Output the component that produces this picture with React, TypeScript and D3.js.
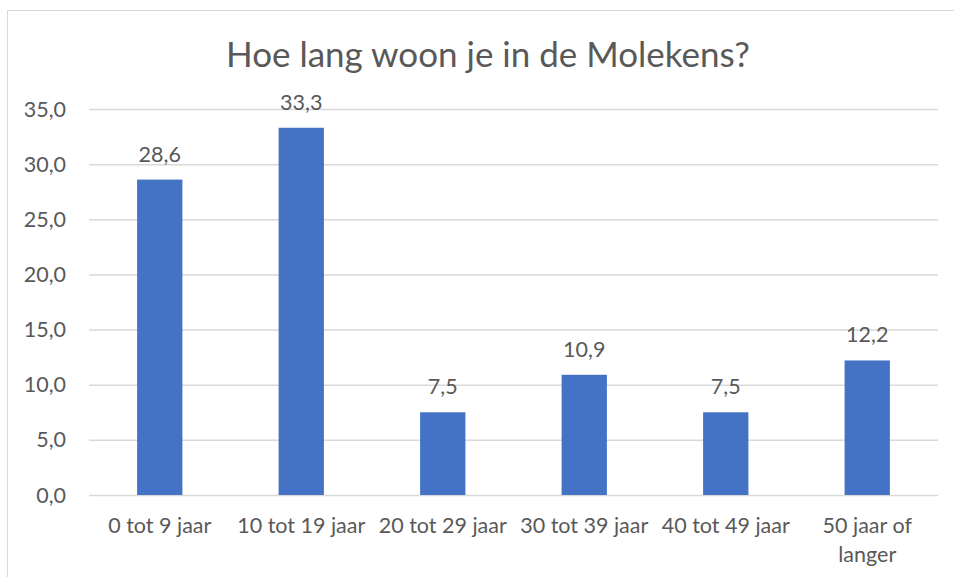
import * as d3 from "d3";
import React, { useEffect, useRef } from "react";

const categories = [
  "0 tot 9 jaar",
  "10 tot 19 jaar",
  "20 tot 29 jaar",
  "30 tot 39 jaar",
  "40 tot 49 jaar",
  "50 jaar of langer",
];
const values = [28.6, 33.3, 7.5, 10.9, 7.5, 12.2];
const yTicks = [0, 5, 10, 15, 20, 25, 30, 35];
const title = "Hoe lang woon je in de Molekens?";

const FONT = "Lato, 'Open Sans', sans-serif";
const TEXT = "#595959";
const LABEL_SIZE = "21.5px";

const fmt = (v: number) => d3.format(".1f")(v).replace(".", ",");

// break a label into lines that fit within width
function wrap(sel: any, width: number, lineHeight: number) {
  sel.each(function (this: SVGTextElement) {
    const text = d3.select(this);
    const words = text.text().split(/\s+/).reverse();
    const x = text.attr("x");
    const y = text.attr("y");
    let line: string[] = [];
    let n = 0;
    let word;
    let tspan = text.text(null).append("tspan").attr("x", x).attr("y", y);
    while ((word = words.pop())) {
      line.push(word);
      tspan.text(line.join(" "));
      if ((tspan.node() as SVGTSpanElement).getComputedTextLength() > width && line.length > 1) {
        line.pop();
        tspan.text(line.join(" "));
        line = [word];
        tspan = text
          .append("tspan")
          .attr("x", x)
          .attr("y", +y + ++n * lineHeight)
          .text(word);
      }
    }
  });
}

export default function App() {
  const ref = useRef<SVGSVGElement>(null);

  useEffect(() => {
    const width = 954,
      height = 577;
    const margin = { top: 109, right: 16, bottom: 82, left: 89 };

    const svg = d3.select(ref.current);
    svg.selectAll("*").remove();
    svg.attr("width", width).attr("height", height);

    svg
      .append("rect")
      .attr("x", 7.5)
      .attr("y", 10.5)
      .attr("width", 1000)
      .attr("height", 1000)
      .attr("fill", "#fff")
      .attr("stroke", "#d9d9d9");

    const x = d3
      .scaleBand()
      .domain(categories)
      .range([margin.left, width - margin.right])
      .paddingInner(0.68)
      .paddingOuter(0.34);

    const y = d3
      .scaleLinear()
      .domain([0, 35])
      .range([height - margin.bottom, margin.top]);

    // gridlines
    svg
      .append("g")
      .selectAll("line")
      .data(yTicks)
      .join("line")
      .attr("x1", margin.left)
      .attr("x2", width - margin.right)
      .attr("y1", (d) => y(d) + 0.5)
      .attr("y2", (d) => y(d) + 0.5)
      .attr("stroke", "#d9d9d9")
      .attr("stroke-width", 1.5);

    // y tick labels
    svg
      .append("g")
      .selectAll("text")
      .data(yTicks)
      .join("text")
      .attr("x", 66)
      .attr("y", (d) => y(d))
      .attr("dy", "0.35em")
      .attr("text-anchor", "end")
      .style("font-family", FONT)
      .style("font-size", LABEL_SIZE)
      .attr("fill", TEXT)
      .text((d) => fmt(d));

    // bars
    svg
      .append("g")
      .selectAll("rect")
      .data(values)
      .join("rect")
      .attr("x", (d, i) => x(categories[i])!)
      .attr("y", (d) => y(d))
      .attr("width", x.bandwidth())
      .attr("height", (d) => y(0) - y(d))
      .attr("fill", "#4472c4");

    // data labels
    svg
      .append("g")
      .selectAll("text")
      .data(values)
      .join("text")
      .attr("x", (d, i) => x(categories[i])! + x.bandwidth() / 2)
      .attr("y", (d) => y(d) - 18)
      .attr("text-anchor", "middle")
      .style("font-family", FONT)
      .style("font-size", LABEL_SIZE)
      .attr("fill", TEXT)
      .text((d) => fmt(d));

    // category labels
    svg
      .append("g")
      .selectAll("text")
      .data(categories)
      .join("text")
      .attr("x", (d) => x(d)! + x.bandwidth() / 2)
      .attr("y", 533)
      .attr("text-anchor", "middle")
      .style("font-family", FONT)
      .style("font-size", LABEL_SIZE)
      .attr("fill", TEXT)
      .text((d) => d)
      .call(wrap, x.step(), 29);

    // title
    svg
      .append("text")
      .attr("x", 488)
      .attr("y", 67)
      .attr("text-anchor", "middle")
      .style("font-family", FONT)
      .style("font-size", "35px")
      .attr("fill", TEXT)
      .text(title);
  }, []);

  return (
    <div style={{ position: "absolute", left: 0, top: 0 }}>
      <svg ref={ref}></svg>
    </div>
  );
}
